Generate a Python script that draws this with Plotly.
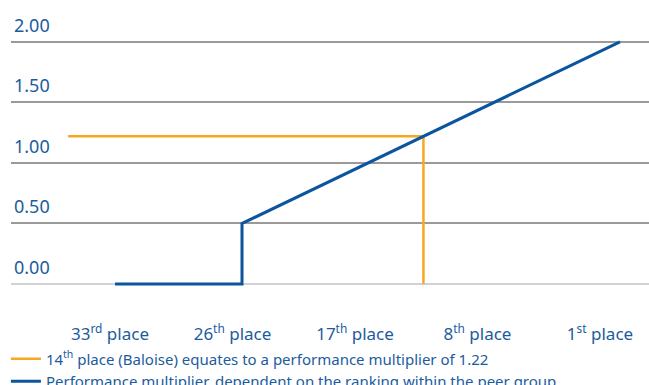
import plotly.graph_objects as go

# Data
categories = ["33<sup>rd</sup> place", "26<sup>th</sup> place", "17<sup>th</sup> place",
              "8<sup>th</sup> place", "1<sup>st</sup> place"]
blue_rank = [34.4, 26, 26, 1]
blue_mult = [0.0, 0.0, 0.5, 2.0]
orange_rank = [37.5, 14, 14]
orange_mult = [1.22, 1.22, 0.0]
y_ticks = [0, 0.5, 1.0, 1.5, 2.0]
y_ticktext = ["0.00", "0.50", "1.00", "1.50", "2.00"]

BLUE = "#0b559f"
ORANGE = "#f7a823"
TXT = "#1b5c9d"
FONT = "Noto Sans"

fig = go.Figure()
fig.add_trace(go.Scatter(
    x=orange_rank, y=orange_mult, mode="lines",
    line=dict(color=ORANGE, width=2.5),
    name="14<sup>th</sup> place (Baloise) equates to a performance multiplier of 1.22",
    legendgroup="a", hoverinfo="skip"))
fig.add_trace(go.Scatter(
    x=blue_rank, y=blue_mult, mode="lines",
    line=dict(color=BLUE, width=3),
    name="Performance multiplier, dependent on the ranking within the peer group",
    legendgroup="b", hoverinfo="skip"))
# dummy trace carrying the category labels on a second x axis
fig.add_trace(go.Scatter(
    x=list(range(len(categories))), y=[None] * len(categories), xaxis="x2",
    mode="markers", showlegend=False, hoverinfo="skip"))

fig.update_layout(
    width=649, height=385,
    margin=dict(l=11, r=0, t=5, b=65.5, autoexpand=False),
    paper_bgcolor="white", plot_bgcolor="white",
    font=dict(family=FONT, color=TXT),
    xaxis=dict(range=[41.28, -0.92], showgrid=False, zeroline=False,
               showticklabels=False, ticks=""),
    xaxis2=dict(overlaying="x", anchor="y", side="bottom",
                range=[-0.808, 4.4], tickmode="array",
                tickvals=list(range(len(categories))), ticktext=categories,
                showgrid=False, zeroline=False, ticks="", ticklabelstandoff=3,
                tickfont=dict(size=17, color=TXT, family=FONT)),
    yaxis=dict(range=[-0.289, 2.305], tickmode="array", tickvals=y_ticks,
               ticktext=y_ticktext, ticklabelposition="inside top",
               ticklabelshift=-4,
               showgrid=True, gridcolor="#9a9a9a", gridwidth=2,
               zeroline=True, zerolinecolor="#d2d2d2", zerolinewidth=2,
               tickfont=dict(size=18, color=TXT, family=FONT)),
    showlegend=True,
    legend=dict(x=-0.008, xanchor="left", y=-0.0745, yanchor="top",
                font=dict(size=15, color=TXT, family=FONT),
                tracegroupgap=0, bgcolor="rgba(0,0,0,0)"),
)

fig.write_html("out.html")
